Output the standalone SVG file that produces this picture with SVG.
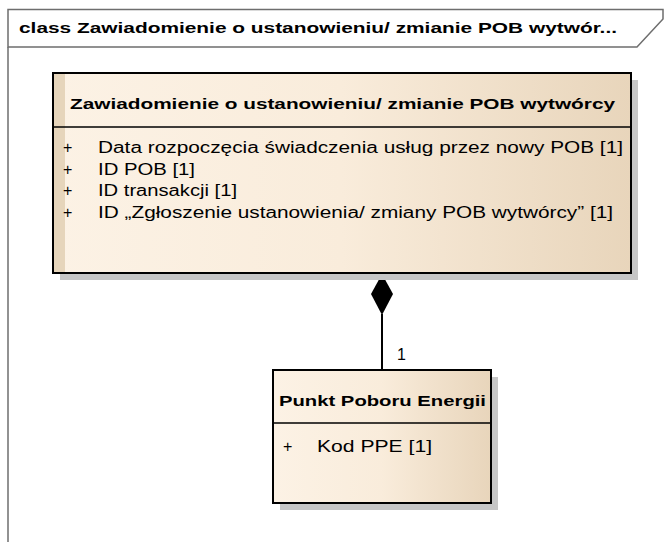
<svg xmlns="http://www.w3.org/2000/svg" width="668" height="542" viewBox="0 0 668 542">
  <defs>
    <linearGradient id="cls" x1="0" y1="0" x2="1" y2="0">
      <stop offset="0" stop-color="#fcf2e5"/>
      <stop offset="0.5" stop-color="#f9ecdb"/>
      <stop offset="1" stop-color="#e8d5bb"/>
    </linearGradient>
  </defs>
  <style>
    .frame { fill: none; stroke: #6e6e6e; stroke-width: 1.5; }
    .hdr { fill: #ffffff; stroke: #6e6e6e; stroke-width: 1.5; }
    .box { fill: url(#cls); stroke: #000000; stroke-width: 2; }
    .shadow { fill: #c6c6c6; }
    .sep { stroke: #000000; stroke-width: 1.3; }
    .title { font-family: "Liberation Sans", Arial, sans-serif; font-weight: bold; font-size: 15.5px; fill: #000; }
    .attr { font-family: "Liberation Sans", Arial, sans-serif; font-size: 16px; fill: #000; }
    .conn { stroke: #000; stroke-width: 2; fill: none; }
  </style>
  <rect width="668" height="542" fill="#ffffff"/>
  <g id="frame">
    <line class="frame" x1="8" y1="47" x2="8" y2="542"/>
    <path class="hdr" d="M8,9.5 H663 V19 L637,47 H8 Z"/>
    <text class="title" x="19" y="33" textLength="598" lengthAdjust="spacingAndGlyphs">class Zawiadomienie o ustanowieniu/ zmianie POB wytwór...</text>
  </g>
  <g id="connectors">
    <line class="conn" x1="382" y1="314" x2="382" y2="370"/>
    <polygon points="382,274 393,294 382,315 371,294" fill="#000"/>
    <text class="attr" x="397" y="360">1</text>
  </g>
  <g id="zawiadomienie">
    <rect class="shadow" x="60" y="80" width="578" height="200"/>
    <rect class="box" x="53" y="73" width="578" height="200"/>
    <rect x="54" y="74" width="11" height="198" fill="#e6d5bb"/>
    <line class="sep" x1="53" y1="127" x2="631" y2="127"/>
    <text class="title" x="70" y="109" textLength="545" lengthAdjust="spacingAndGlyphs">Zawiadomienie o ustanowieniu/ zmianie POB wytwórcy</text>
    <text class="attr" x="63" y="153">+</text>
    <text class="attr" x="98" y="153" textLength="525" lengthAdjust="spacingAndGlyphs">Data rozpoczęcia świadczenia usług przez nowy POB [1]</text>
    <text class="attr" x="63" y="175">+</text>
    <text class="attr" x="98" y="175" textLength="97" lengthAdjust="spacingAndGlyphs">ID POB [1]</text>
    <text class="attr" x="63" y="196">+</text>
    <text class="attr" x="98" y="196" textLength="139" lengthAdjust="spacingAndGlyphs">ID transakcji [1]</text>
    <text class="attr" x="63" y="218">+</text>
    <text class="attr" x="98" y="218" textLength="515" lengthAdjust="spacingAndGlyphs">ID „Zgłoszenie ustanowienia/ zmiany POB wytwórcy” [1]</text>
  </g>
  <g id="ppe">
    <rect class="shadow" x="280" y="377" width="218" height="133"/>
    <rect class="box" x="273" y="370" width="218" height="133"/>
    <line class="sep" x1="273" y1="423" x2="491" y2="423"/>
    <text class="title" x="279" y="406" textLength="207" lengthAdjust="spacingAndGlyphs">Punkt Poboru Energii</text>
    <text class="attr" x="283" y="452">+</text>
    <text class="attr" x="317" y="452" textLength="115" lengthAdjust="spacingAndGlyphs">Kod PPE [1]</text>
  </g>
</svg>
